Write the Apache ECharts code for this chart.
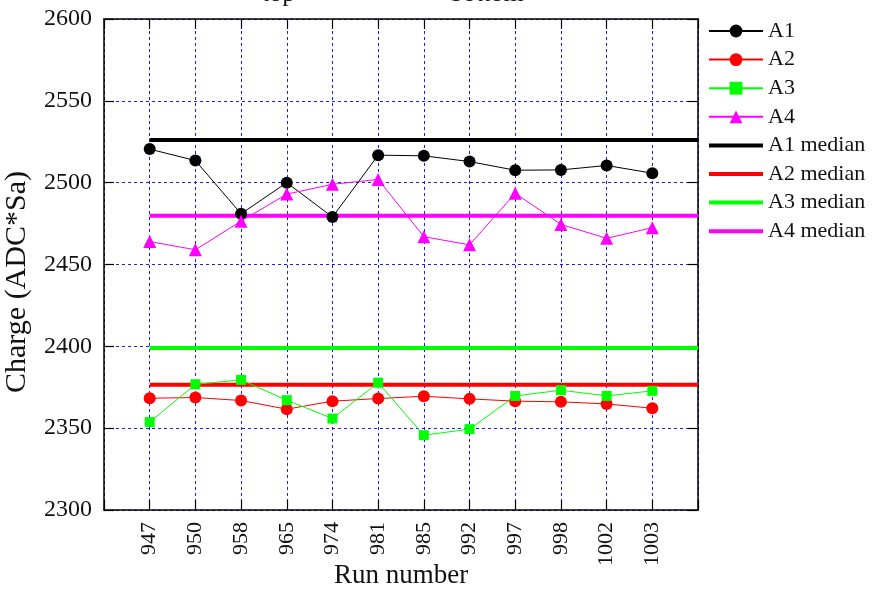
<!DOCTYPE html>
<html>
<head>
<meta charset="utf-8">
<script src="https://cdn.jsdelivr.net/npm/echarts@6/dist/echarts.min.js"></script>
<style>
html,body{margin:0;padding:0;background:#fff;}
#main{width:873px;height:589px;}
</style>
</head>
<body>
<div id="main"></div>
<script>
var runs = ['947','950','958','965','974','981','985','992','997','998','1002','1003'];
var A1 = [2520.5, 2513.5, 2481, 2500, 2479, 2516.8, 2516.4, 2512.9, 2507.6, 2507.8, 2510.5, 2505.8];
var A2 = [2368.3, 2368.7, 2366.9, 2361.6, 2366.5, 2368.1, 2369.5, 2367.9, 2366.5, 2366.1, 2364.8, 2362.2];
var A3 = [2353.7, 2376.8, 2379.5, 2367.1, 2355.9, 2377.8, 2345.7, 2349.4, 2369.7, 2373.2, 2369.7, 2372.8];
var A4 = [2464, 2459, 2476.5, 2493, 2499, 2502, 2467, 2462, 2493.5, 2474.5, 2466, 2472.5];
var medians = {A1: 2526, A2: 2376.5, A3: 2399, A4: 2479.8};
var yTicks = [2300, 2350, 2400, 2450, 2500, 2550, 2600];
var topLabels = ['top', 'bottom'];
var yName = 'Charge (ADC*Sa)';
var xName = 'Run number';

var FONT = "'Liberation Serif','Times New Roman',serif";
function pts(arr){ return arr.map(function(v,i){ return [i, v]; }); }
function med(v){ return [[0, v], [runs.length, v]]; }

var chart = echarts.init(document.getElementById('main'));
var axisBase = {
  axisLine: {show: true, onZero: false, lineStyle: {color: '#000', width: 1.5}},
  axisTick: {show: true, inside: true, length: 10, lineStyle: {color: '#000', width: 1.2}},
  splitLine: {show: false}
};
function xAx(pos, labels){
  return Object.assign({}, axisBase, {
    type: 'value', position: pos, min: -1, max: runs.length, interval: 1,
    axisLabel: labels ? {
      show: true, rotate: 90, margin: 12, fontSize: 22, fontFamily: FONT, color: '#111',
      formatter: function(v){ return runs[v] !== undefined ? runs[v] : ''; }
    } : {show: false},
    splitLine: labels ? {show: true, lineStyle: {color: '#1a1aff', width: 1, type: [3, 3]}} : {show: false}
  });
}
function yAx(pos, labels){
  return Object.assign({}, axisBase, {
    type: 'value', position: pos, min: yTicks[0], max: yTicks[yTicks.length-1], interval: 50,
    axisLabel: labels ? {show: true, margin: 12, fontSize: 24, fontFamily: FONT, color: '#111',
      formatter: function(v){ return String(v); }} : {show: false},
    splitLine: labels ? {show: true, lineStyle: {color: '#1a1aff', width: 1, type: [3, 3]}} : {show: false}
  });
}
function medSeries(name, color, v){
  return {name: name, type: 'line', data: med(v), showSymbol: false, symbol: 'none',
    lineStyle: {color: color, width: 4}, itemStyle: {color: color}, z: 1, silent: true, animation: false};
}
function dataSeries(name, color, arr, symbol, size){
  return {name: name, type: 'line', data: pts(arr), symbol: symbol, symbolSize: size,
    lineStyle: {color: color, width: 1}, itemStyle: {color: color}, z: 3, animation: false};
}
var barIcon = 'path://M0,0L54,0L54,4L0,4Z';
chart.setOption({
  animation: false,
  backgroundColor: '#fff',
  grid: {left: 104, right: 175, top: 19, bottom: 79, containLabel: false, outerBoundsMode: 'none'},
  xAxis: [xAx('bottom', true), xAx('top', false)],
  yAxis: [yAx('left', true), yAx('right', false)],
  legend: {
    orient: 'vertical', left: 708, top: 20, padding: 0, itemWidth: 54, itemHeight: 16, itemGap: 6.6,
    textStyle: {fontSize: 22, fontFamily: FONT, color: '#111'},
    data: ['A1','A2','A3','A4',
      {name: 'A1 median', icon: barIcon}, {name: 'A2 median', icon: barIcon},
      {name: 'A3 median', icon: barIcon}, {name: 'A4 median', icon: barIcon}]
  },
  graphic: [
    {type: 'text', left: 262, top: -19, style: {text: topLabels[0], font: '26px ' + FONT, fill: '#111'}},
    {type: 'text', left: 450, top: -19, style: {text: topLabels[1], font: '26px ' + FONT, fill: '#111'}},
    {type: 'text', x: 17, y: 282, rotation: Math.PI / 2,
      style: {text: yName, font: '30px ' + FONT, fill: '#111', align: 'center', verticalAlign: 'middle'}},
    {type: 'text', x: 401, y: 576,
      style: {text: xName, font: '27px ' + FONT, fill: '#111', align: 'center', verticalAlign: 'middle'}}
  ],
  series: [
    medSeries('A1 median', '#000000', medians.A1),
    medSeries('A2 median', '#ff0000', medians.A2),
    medSeries('A3 median', '#00ff00', medians.A3),
    medSeries('A4 median', '#ff00ff', medians.A4),
    dataSeries('A1', '#000000', A1, 'circle', 12),
    dataSeries('A2', '#ff0000', A2, 'circle', 12),
    dataSeries('A3', '#00ff00', A3, 'rect', 10),
    dataSeries('A4', '#ff00ff', A4, 'triangle', 13)
  ]
});
</script>
</body>
</html>
